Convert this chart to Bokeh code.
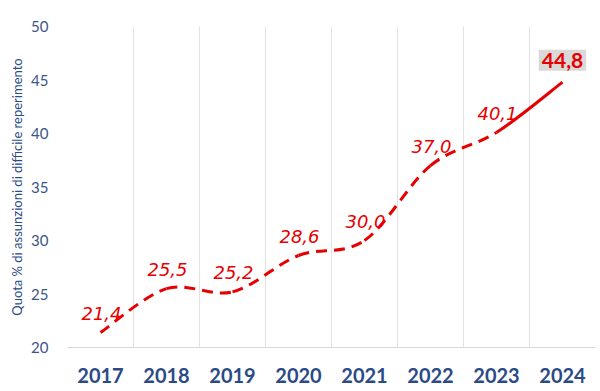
from bokeh.plotting import figure
from bokeh.models import Range1d, FixedTicker, ColumnDataSource, Label
from bokeh.core.properties import value
from bokeh.embed import file_html
from bokeh.resources import INLINE

years = ["2017", "2018", "2019", "2020", "2021", "2022", "2023", "2024"]
values = [21.4, 25.5, 25.2, 28.6, 30.0, 37.0, 40.1, 44.8]
labels = ["21,4", "25,5", "25,2", "28,6", "30,0", "37,0", "40,1", "44,8"]
y_ticks = [20, 25, 30, 35, 40, 45, 50]

RED = "#e60000"
FONT = "Lato"
LABEL_FONT = "DejaVu Sans"
xs = [i + 0.5 for i in range(len(years))]

p = figure(frame_width=528, frame_height=321, output_backend="svg", toolbar_location=None,
           x_range=Range1d(0, len(years)), y_range=Range1d(20, 50),
           min_border_left=67, min_border_top=26, min_border_right=3, min_border_bottom=42)
p.outline_line_color = None
p.background_fill_color = "white"

# grids
p.ygrid.grid_line_color = None
p.xgrid.ticker = FixedTicker(ticks=list(range(len(years) + 1)))
p.xgrid.grid_line_color = "#e2e2e2"
p.xgrid.grid_line_width = 1

# axes
p.xaxis.ticker = FixedTicker(ticks=xs)
p.xaxis.major_label_overrides = {x: y for x, y in zip(xs, years)}
p.xaxis.major_label_text_font = FONT
p.xaxis.major_label_text_font_style = "bold"
p.xaxis.major_label_text_font_size = "20px"
p.xaxis.major_label_text_color = "#2b4b86"
p.xaxis.major_label_standoff = 14
p.xaxis.axis_line_color = "#d9d9d9"
p.xaxis.major_tick_line_color = None
p.xaxis.minor_tick_line_color = None

p.yaxis.ticker = FixedTicker(ticks=y_ticks)
p.yaxis.major_label_text_font = FONT
p.yaxis.major_label_text_font_size = "15px"
p.yaxis.major_label_text_color = "#3b5587"
p.yaxis.major_label_standoff = 13
p.yaxis.axis_line_color = None
p.yaxis.major_tick_line_color = None
p.yaxis.minor_tick_line_color = None
p.yaxis.axis_label = "Quota % di assunzioni di difficile reperimento"
p.yaxis.axis_label_text_font = FONT
p.yaxis.axis_label_text_font_style = "normal"
p.yaxis.axis_label_text_font_size = "13px"
p.yaxis.axis_label_text_color = "#2b4b86"
p.yaxis.axis_label_standoff = 3

# smoothed curve via bezier segments (Catmull-Rom style control points)
n = len(values)
def seg(i):
    x0, y0 = xs[i], values[i]
    x1, y1 = xs[i + 1], values[i + 1]
    xm, ym = (xs[i - 1], values[i - 1]) if i > 0 else (x0, y0)
    xp, yp = (xs[i + 2], values[i + 2]) if i + 2 < n else (x1, y1)
    return dict(x0=x0, y0=y0, x1=x1, y1=y1,
                cx0=x0 + (x1 - xm) / 6, cy0=y0 + (y1 - ym) / 6,
                cx1=x1 - (xp - x0) / 6, cy1=y1 - (yp - y0) / 6)

dashed = [seg(i) for i in range(n - 2)]
solid = [seg(n - 2)]
def tosrc(segs):
    return ColumnDataSource({k: [s[k] for s in segs] for k in segs[0]})

p.bezier(x0="x0", y0="y0", x1="x1", y1="y1", cx0="cx0", cy0="cy0", cx1="cx1", cy1="cy1",
         source=tosrc(dashed), line_color=RED, line_width=3, line_dash="11 7")
p.bezier(x0="x0", y0="y0", x1="x1", y1="y1", cx0="cx0", cy0="cy0", cx1="cx1", cy1="cy1",
         source=tosrc(solid), line_color=RED, line_width=3)

lab_src = ColumnDataSource(dict(x=xs[:-1], y=values[:-1], text=labels[:-1]))
p.text(x="x", y="y", text="text", source=lab_src, x_offset=1, y_offset=-19,
       text_align="center", text_baseline="middle",
       text_font=value(LABEL_FONT), text_font_style="italic",
       text_font_size="18px", text_color=RED)

p.add_layout(Label(x=xs[-1], y=values[-1], text=labels[-1], x_offset=0, y_offset=22,
                   text_align="center", text_baseline="middle",
                   text_font=FONT, text_font_style="bold",
                   text_font_size="21px", text_color=RED,
                   background_fill_color="#d9d9d9", padding=3))

open("out.html", "w").write(file_html(p, INLINE))
